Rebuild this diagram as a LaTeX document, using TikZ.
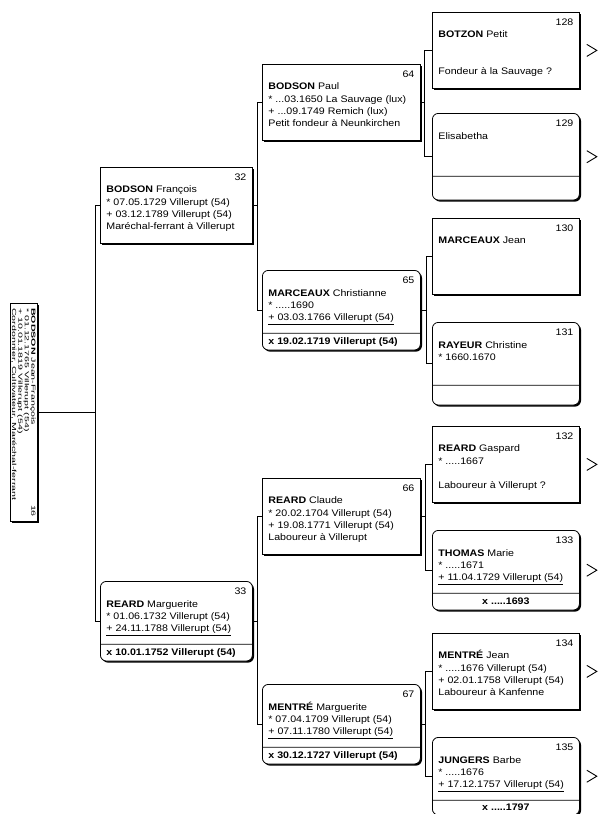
\documentclass[tikz,border=0pt]{standalone}
\usepackage{fontspec}
\setmainfont{Liberation Sans}[FakeStretch=1.12]
\usepackage{graphicx}
\usetikzlibrary{shapes.multipart,shadows,positioning,calc,arrows.meta}

\newcommand{\pcard}[4]{\parbox[c][#1][t]{#2}{\rule{0pt}{10pt}\hfill #3\\ #4}}
\newcommand{\pmarr}[3]{\parbox[c][#1][c]{#2}{#3}}

\tikzset{
  pbox/.style={draw, line width=0.8pt, fill=white, inner xsep=6pt, inner ysep=3pt,
    font=\fontsize{9.5}{12.3}\selectfont,
    drop shadow={shadow xshift=1.6pt, shadow yshift=-1.6pt, opacity=1, fill=black}},
  manbox/.style={pbox, rectangle, anchor=north west},
  womanbox/.style={pbox, rectangle split, rectangle split parts=2, rounded corners=6pt, anchor=north west},
  link/.style={line width=0.7pt},
  chev/.style={line width=0.9pt, line join=miter}
}

\begin{document}
\begin{tikzpicture}[x=1pt,y=-1pt]
\useasboundingbox (0,0) rectangle (599,814);
% generation 1
\node[pbox, rectangle, rotate=-90, inner sep=0pt, minimum width=218pt, minimum height=27pt,
  line width=1pt, font=\fontsize{8.2}{9}\selectfont] (p16) at (23.5,412.5)
  {\scalebox{1.16}[0.72]{\parbox{180pt}{\textbf{BODSON} Jean-François\hfill 16\\
  {*} 01.12.1765 Villerupt (54)\\ + 10.01.1819 Villerupt (54)\\
  Cordonnier, Cultivateur, Maréchal-ferrant}}};
% generation 2
\node[manbox] (p32) at (100,167) {\pcard{70pt}{140pt}{32}{\textbf{BODSON} François\\
  {*} 07.05.1729 Villerupt (54)\\ + 03.12.1789 Villerupt (54)\\ Maréchal-ferrant à Villerupt}};
\node[womanbox] (p33) at (100,581) {\pcard{56pt}{140pt}{33}{\textbf{REARD} Marguerite\\
  {*} 01.06.1732 Villerupt (54)\\ \underline{+ 24.11.1788 Villerupt (54)}}
  \nodepart{two}\pmarr{10pt}{140pt}{\textbf{x 10.01.1752 Villerupt (54)}}};
% generation 3
\node[manbox] (p64) at (262,64) {\pcard{70pt}{146pt}{64}{\textbf{BODSON} Paul\\
  {*} ...03.1650 La Sauvage (lux)\\ + ...09.1749 Remich (lux)\\ Petit fondeur à Neunkirchen}};
\node[womanbox] (p65) at (262,270) {\pcard{56pt}{146pt}{65}{\textbf{MARCEAUX} Christianne\\
  {*} .....1690\\ \underline{+ 03.03.1766 Villerupt (54)}}
  \nodepart{two}\pmarr{10pt}{146pt}{\textbf{x 19.02.1719 Villerupt (54)}}};
\node[manbox] (p66) at (262,478) {\pcard{70pt}{146pt}{66}{\textbf{REARD} Claude\\
  {*} 20.02.1704 Villerupt (54)\\ + 19.08.1771 Villerupt (54)\\ Laboureur à Villerupt}};
\node[womanbox] (p67) at (262,684) {\pcard{56pt}{146pt}{67}{\textbf{MENTRÉ} Marguerite\\
  {*} 07.04.1709 Villerupt (54)\\ \underline{+ 07.11.1780 Villerupt (54)}}
  \nodepart{two}\pmarr{10pt}{146pt}{\textbf{x 30.12.1727 Villerupt (54)}}};
% generation 4
\node[manbox] (p128) at (432,12) {\pcard{70pt}{135pt}{128}{\textbf{BOTZON} Petit\\
  \mbox{}\\ \mbox{}\\ Fondeur à la Sauvage ?}};
\node[womanbox] (p129) at (432,113) {\pcard{56pt}{135pt}{129}{Elisabetha}
  \nodepart{two}\pmarr{17pt}{135pt}{}};
\node[manbox] (p130) at (432,218) {\pcard{70pt}{135pt}{130}{\textbf{MARCEAUX} Jean}};
\node[womanbox] (p131) at (432,322) {\pcard{56pt}{135pt}{131}{\textbf{RAYEUR} Christine\\
  {*} 1660.1670}
  \nodepart{two}\pmarr{13pt}{135pt}{}};
\node[manbox] (p132) at (432,426) {\pcard{70pt}{135pt}{132}{\textbf{REARD} Gaspard\\
  {*} .....1667\\ \mbox{}\\ Laboureur à Villerupt ?}};
\node[womanbox] (p133) at (432,530) {\pcard{56pt}{135pt}{133}{\textbf{THOMAS} Marie\\
  {*} .....1671\\ \underline{+ 11.04.1729 Villerupt (54)}}
  \nodepart{two}\pmarr{10pt}{135pt}{\centering\textbf{x .....1693}}};
\node[manbox] (p134) at (432,633) {\pcard{70pt}{135pt}{134}{\textbf{MENTRÉ} Jean\\
  {*} .....1676 Villerupt (54)\\ + 02.01.1758 Villerupt (54)\\ Laboureur à Kanfenne}};
\node[womanbox] (p135) at (432,737) {\pcard{56pt}{135pt}{135}{\textbf{JUNGERS} Barbe\\
  {*} .....1676\\ \underline{+ 17.12.1757 Villerupt (54)}}
  \nodepart{two}\pmarr{8pt}{135pt}{\centering\textbf{x .....1797}}};

\draw[link] (p32.west) -- ++(-5,0) |- (p16.north);
\draw[link] (p33.west) -- ++(-5,0) |- (p16.north);
\draw[link] (p64.west) -- ++(-5,0) |- (p32.east);
\draw[link] (p65.west) -- ++(-5,0) |- (p32.east);
\draw[link] (p66.west) -- ++(-5,0) |- (p33.east);
\draw[link] (p67.west) -- ++(-5,0) |- (p33.east);
\draw[link] (p128.west) -- ++(-8,0) |- (p64.east);
\draw[link] (p129.west) -- ++(-8,0) |- (p64.east);
\draw[link] (p130.west) -- ++(-6,0) |- (p65.east);
\draw[link] (p131.west) -- ++(-6,0) |- (p65.east);
\draw[link] (p132.west) -- ++(-7,0) |- (p66.east);
\draw[link] (p133.west) -- ++(-7,0) |- (p66.east);
\draw[link] (p134.west) -- ++(-7,0) |- (p67.east);
\draw[link] (p135.west) -- ++(-7,0) |- (p67.east);

% continued further back
\foreach \p in {p128,p129,p132,p133,p134,p135}
  \draw[chev] ($(\p.east)+(7,-6)$) -- ++(10,6) -- ++(-10,6);
\end{tikzpicture}
\end{document}
